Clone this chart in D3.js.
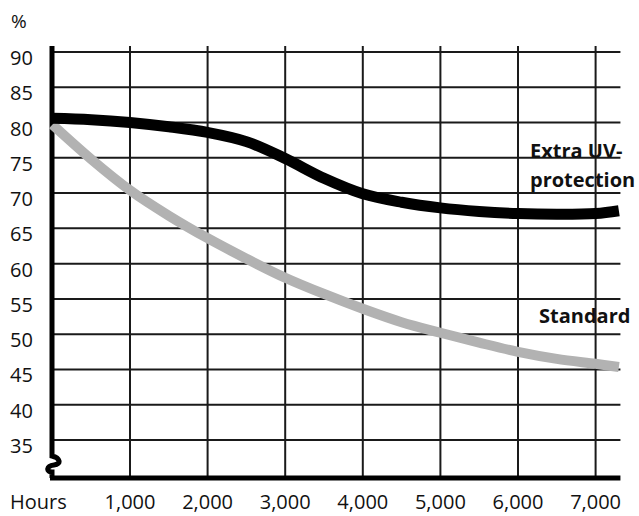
<!DOCTYPE html>
<html>
<head>
<meta charset="utf-8">
<script src="https://cdn.jsdelivr.net/npm/d3@7"></script>
<style>
  html, body { margin: 0; padding: 0; background: #fff; }
  svg { display: block; }
  text { font-family: "Open Sans", "DejaVu Sans", sans-serif; fill: #111; }
</style>
</head>
<body>
<svg id="chart" width="639" height="516"></svg>
<script>
// ---- data ----
const hours    = [0, 500, 1000, 1500, 2000, 2500, 3000, 3500, 4000, 4500, 5000, 5500, 6000, 6500, 7000, 7300];
const extraUV  = [80.6, 80.4, 80.0, 79.4, 78.6, 77.3, 74.9, 72.1, 69.9, 68.7, 67.9, 67.4, 67.1, 67.0, 67.1, 67.5];
const standard = [79.7, 74.8, 70.4, 66.8, 63.6, 60.7, 58.0, 55.7, 53.6, 51.7, 50.2, 48.8, 47.5, 46.5, 45.8, 45.35];
const xTicks = [1000, 2000, 3000, 4000, 5000, 6000, 7000];
const yTicks = [35, 40, 45, 50, 55, 60, 65, 70, 75, 80, 85, 90];
const xTickLabels = ["1,000", "2,000", "3,000", "4,000", "5,000", "6,000", "7,000"];
const seriesLabels = [["Extra UV-", "protection"], ["Standard"]];

// ---- scales ----
const svg = d3.select("#chart");
const x = d3.scaleLinear().domain([0, 7000]).range([52.4, 595.6]);
const y = d3.scaleLinear().domain([35, 90]).range([440, 52]);
const xEnd = x(7320);
const yTop = 46, yBottom = 478, xAxis = 52;

// ---- grid ----
const grid = svg.append("g");
grid.selectAll("line.h").data(yTicks).enter().append("line")
  .attr("x1", xAxis).attr("x2", xEnd)
  .attr("y1", d => y(d)).attr("y2", d => y(d))
  .attr("stroke", "#1a1a1a").attr("stroke-width", 2);
grid.selectAll("line.v").data(xTicks).enter().append("line")
  .attr("x1", d => x(d)).attr("x2", d => x(d))
  .attr("y1", yTop).attr("y2", yBottom)
  .attr("stroke", "#1a1a1a").attr("stroke-width", 2);

// ---- axes ----
svg.append("line").attr("x1", xAxis - 2).attr("x2", xEnd)
  .attr("y1", yBottom).attr("y2", yBottom)
  .attr("stroke", "#000").attr("stroke-width", 5);
svg.append("path")
  .attr("d", `M${xAxis},${yTop} L${xAxis},456 C${xAxis+8},458 ${xAxis+10},464 ${xAxis+2},465 C${xAxis-6},466 ${xAxis-6},472 ${xAxis},472 L${xAxis},${yBottom}`)
  .attr("fill", "none").attr("stroke", "#000").attr("stroke-width", 5);

// ---- y tick labels ----
svg.selectAll("text.yt").data(yTicks).enter().append("text")
  .attr("x", 10).attr("y", d => y(d) + 13)
  .attr("font-size", 20).text(d => d);
svg.append("text").attr("x", 11).attr("y", 28).attr("font-size", 19).text("%");

// ---- x tick labels ----
svg.selectAll("text.xt").data(xTicks).enter().append("text")
  .attr("x", d => x(d)).attr("y", 509).attr("text-anchor", "middle")
  .attr("font-size", 20).text((d, i) => xTickLabels[i]);
svg.append("text").attr("x", 10).attr("y", 509).attr("font-size", 20).text("Hours");

// ---- lines ----
const line = d3.line().x(d => x(d[0])).y(d => y(d[1])).curve(d3.curveCatmullRom.alpha(0.5));
svg.append("path").datum(hours.map((h, i) => [h, standard[i]]))
  .attr("d", line).attr("fill", "none").attr("stroke", "#b2b2b2").attr("stroke-width", 10);
svg.append("path").datum(hours.map((h, i) => [h, extraUV[i]]))
  .attr("d", line).attr("fill", "none").attr("stroke", "#000").attr("stroke-width", 11);

// ---- series labels ----
const lab1 = svg.append("text").attr("font-size", 20).attr("font-weight", "bold");
lab1.append("tspan").attr("x", 530).attr("y", 158).text(seriesLabels[0][0]);
lab1.append("tspan").attr("x", 530).attr("y", 187).text(seriesLabels[0][1]);
svg.append("text").attr("font-size", 20).attr("font-weight", "bold")
  .attr("x", 539).attr("y", 323).text(seriesLabels[1][0]);
</script>
</body>
</html>
